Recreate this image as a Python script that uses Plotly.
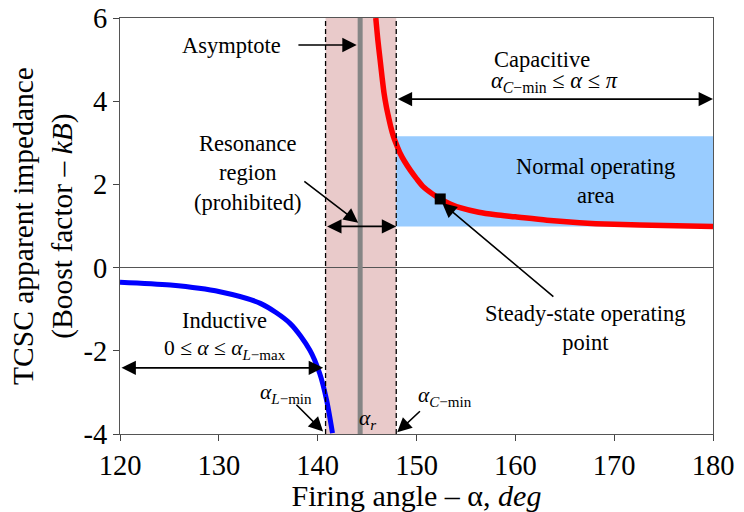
import plotly.graph_objects as go

# ---- data ----
inductive_x = [120.0, 125.1, 130.1, 134.2, 137.2, 139.2, 140.2, 140.9, 141.5]
inductive_y = [-0.35, -0.42, -0.58, -0.86, -1.34, -1.98, -2.54, -3.18, -3.98]

capacitive_x = [145.88, 146.1, 146.32, 146.52, 146.72, 146.94, 147.16, 147.4, 147.67, 148.0,
                148.34, 148.8, 149.35, 150.0, 150.7, 151.5, 152.39,
                153.4, 154.4, 156.3, 158.0, 160.0, 163.2, 166.5, 170.0, 175.0, 180.0]
capacitive_y = [6.0, 5.45, 4.99, 4.57, 4.19, 3.88, 3.63, 3.38, 3.15, 2.94,
                2.75, 2.55, 2.35, 2.14, 1.94, 1.79, 1.65,
                1.53, 1.44, 1.33, 1.27, 1.22, 1.14, 1.08, 1.04, 1.01, 0.99]

operating_point_x = [152.4]
operating_point_y = [1.65]

resonance_region = [140.8, 147.95]   # alpha_L-min, alpha_C-min
asymptote_x = 144.3                  # alpha_r
normal_area_y = [0.99, 3.16]

x_ticks = [120, 130, 140, 150, 160, 170, 180]
y_ticks = [-4, -2, 0, 2, 4, 6]
y_tick_labels = ["-4", "-2", "0", "2", "4", "6"]

FONT = "Liberation Serif"

fig = go.Figure()

fig.add_trace(go.Scatter(x=inductive_x, y=inductive_y, mode="lines",
                         line=dict(color="#0000FF", width=5, shape="spline", smoothing=0.8),
                         hoverinfo="skip", showlegend=False))
fig.add_trace(go.Scatter(x=capacitive_x, y=capacitive_y, mode="lines",
                         line=dict(color="#FF0000", width=5.5, shape="spline", smoothing=0.8),
                         hoverinfo="skip", showlegend=False))
fig.add_trace(go.Scatter(x=operating_point_x, y=operating_point_y, mode="markers",
                         marker=dict(symbol="square", size=11, color="black"),
                         hoverinfo="skip", showlegend=False))

shapes = [
    dict(type="rect", xref="x", yref="y", x0=resonance_region[0], x1=resonance_region[1],
         y0=-4, y1=6, fillcolor="#E9CACA", line=dict(width=0), layer="below"),
    dict(type="rect", xref="x", yref="y", x0=resonance_region[1], x1=180,
         y0=normal_area_y[0], y1=normal_area_y[1], fillcolor="#99CCFF",
         line=dict(width=0), layer="below"),
    dict(type="line", xref="x", yref="y", x0=resonance_region[0], x1=resonance_region[0],
         y0=-4, y1=6, line=dict(color="black", width=1.3, dash="5px,3px")),
    dict(type="line", xref="x", yref="y", x0=resonance_region[1], x1=resonance_region[1],
         y0=-4, y1=6, line=dict(color="black", width=1.3, dash="5px,3px")),
    dict(type="line", xref="x", yref="y", x0=asymptote_x, x1=asymptote_x,
         y0=-4, y1=6, line=dict(color="#858585", width=5)),
]
fig.update_layout(shapes=shapes)

ann = []
def arrow(x, y, ax, ay, both=False):
    ann.append(dict(x=x, y=y, ax=ax, ay=ay, xref="x", yref="y", axref="x", ayref="y",
                    text="", showarrow=True, arrowhead=2, arrowsize=1.8, arrowwidth=1.6,
                    arrowcolor="black", arrowside="end+start" if both else "end",
                    startarrowhead=2, startarrowsize=1.8))

def label(x, y, text, size=22.5):
    ann.append(dict(x=x, y=y, xref="x", yref="y", text=text, showarrow=False,
                    font=dict(family=FONT, size=size, color="black"),
                    xanchor="center", yanchor="middle"))

label(131.3, 5.35, "Asymptote")
arrow(143.95, 5.35, 137.9, 5.35)
label(132.9, 2.27, "Resonance<br>region<br>(prohibited)")
arrow(144.1, 1.08, 138.5, 2.1)
arrow(resonance_region[1], 0.99, resonance_region[0], 0.99, both=True)
label(162.7, 5.0, "Capacitive")
label(164.0, 4.45, "<i>α</i><sub><i>C</i>−min</sub> ≤ <i>α</i> ≤ <i>π</i>")
arrow(180, 4.05, resonance_region[1], 4.05, both=True)
label(168.1, 2.08, "Normal operating<br>area")
label(167.1, -1.44, "Steady-state operating<br>point")
arrow(152.6, 1.55, 164.0, -0.73)
label(130.6, -1.26, "Inductive")
label(130.6, -1.98, "0 ≤ <i>α</i> ≤ <i>α</i><sub><i>L</i>−max</sub>", size=21.5)
arrow(140.55, -2.41, 120, -2.41, both=True)
label(136.8, -3.02, "<i>α</i><sub><i>L</i>−min</sub>", size=21.5)
arrow(140.55, -3.94, 137.7, -3.26)
label(145.0, -3.66, "<i>α</i><sub><i>r</i></sub>", size=21.5)
label(152.9, -3.1, "<i>α</i><sub><i>C</i>−min</sub>", size=21.5)
arrow(148.05, -3.96, 150.5, -3.42)

fig.update_layout(annotations=ann)

fig.update_layout(
    width=744, height=512,
    margin=dict(l=120, r=31, t=18, b=78, autoexpand=False),
    paper_bgcolor="white", plot_bgcolor="white",
    font=dict(family=FONT, color="black"),
    xaxis=dict(range=[120, 180], tickvals=x_ticks, ticks="outside", ticklen=6,
               tickcolor="#444", showgrid=False, zeroline=False, automargin=False,
               showline=True, linecolor="#555", linewidth=1.3, mirror=True,
               tickfont=dict(family=FONT, size=28.5, color="black"),
               title=dict(text="Firing angle – α, <i>deg</i>", standoff=2,
                          font=dict(family=FONT, size=30, color="black"))),
    yaxis=dict(range=[-4, 6], tickvals=y_ticks, ticktext=y_tick_labels,
               ticks="outside", ticklen=6, tickcolor="#444", showgrid=False,
               zeroline=True, zerolinecolor="#555", zerolinewidth=1.2, automargin=False,
               showline=True, linecolor="#555", linewidth=1.3, mirror=True,
               tickfont=dict(family=FONT, size=28.5, color="black"),
               title=dict(text="TCSC apparent impedance<br>(Boost factor – <i>kB</i>)",
                          standoff=2, font=dict(family=FONT, size=29.5, color="black"))),
)

fig.write_html("out.html")
